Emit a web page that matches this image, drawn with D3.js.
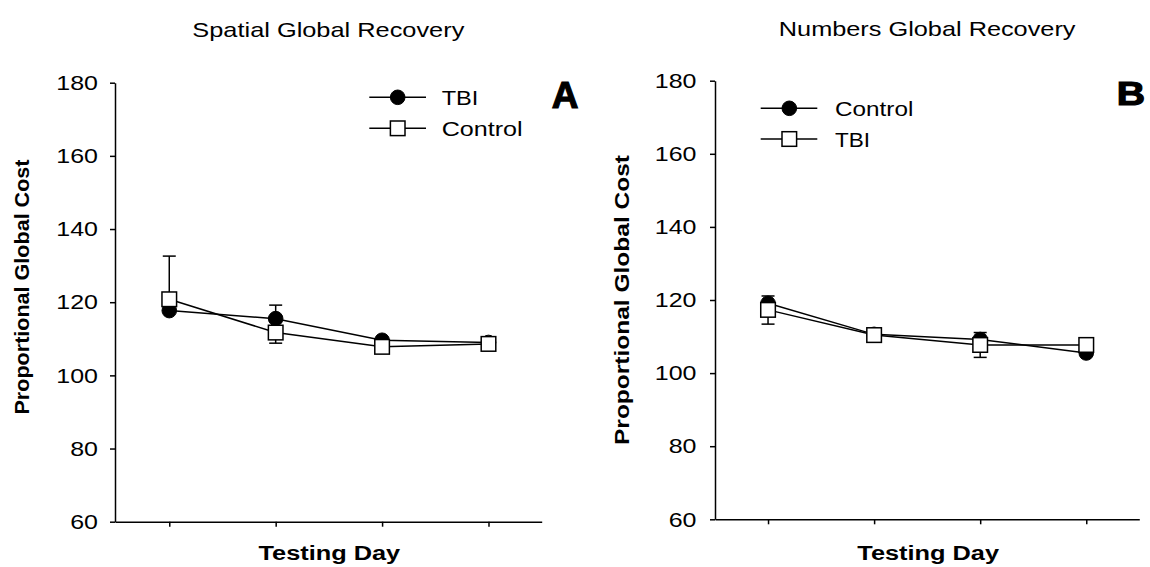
<!DOCTYPE html>
<html>
<head>
<meta charset="utf-8">
<script src="https://cdn.jsdelivr.net/npm/d3@7"></script>
<style>
  html, body { margin: 0; padding: 0; background: #fff; }
  svg { display: block; }
  text { font-family: "Liberation Sans", Arial, sans-serif; fill: #000; }
</style>
</head>
<body>
<svg id="chart" width="1150" height="567"></svg>
<script>
// Testing days (x categories)
const days = [1, 2, 3, 4];
const yTicks = [60, 80, 100, 120, 140, 160, 180];

// Panel A: spatial task
const spatialTBI = [117.7, 115.5, 109.6, 109.0];
const spatialTBIErrUp = [0, 3.7, 0.8, 0.6];
const spatialTBIErrDown = [0, 0, 0, 0];
const spatialControl = [120.8, 111.7, 107.8, 108.6];
const spatialControlErrUp = [11.8, 0, 0, 0];
const spatialControlErrDown = [0, 2.9, 0.5, 0];

// Panel B: numbers task
const numbersControl = [119.1, 110.6, 109.2, 105.5];
const numbersControlErrUp = [2.0, 0.5, 1.9, 0];
const numbersControlErrDown = [0, 0, 0, 0];
const numbersTBI = [117.3, 110.4, 107.7, 107.7];
const numbersTBIErrUp = [0, 0, 0, 0];
const numbersTBIErrDown = [3.9, 0, 3.4, 0];

const svg = d3.select("#chart");
const BLACK = "#000";
const LW = 1.5;

function drawPanel(cfg) {
  const g = svg.append("g");
  const x = d3.scaleLinear().domain(cfg.xDomain).range(cfg.xRange);
  const y = d3.scaleLinear().domain([60, 180]).range(cfg.yRange);

  // title
  g.append("text")
    .attr("x", (cfg.xRange[0] + cfg.xRange[1]) / 2)
    .attr("y", cfg.titleY)
    .attr("text-anchor", "middle")
    .attr("font-size", 21)
    .attr("textLength", cfg.titleLen)
    .attr("lengthAdjust", "spacingAndGlyphs")
    .text(cfg.title);

  // y axis
  const yAxis = g.append("g")
    .attr("transform", `translate(${cfg.xRange[0]},0)`)
    .call(d3.axisLeft(y).tickValues(yTicks).tickSize(5).tickSizeOuter(0).tickPadding(cfg.tickPad));
  yAxis.selectAll("path, line").attr("stroke", BLACK).attr("stroke-width", LW);
  yAxis.selectAll("text")
    .attr("font-size", 21)
    .attr("font-family", "Liberation Sans, Arial, sans-serif")
    .attr("fill", BLACK)
    .attr("textLength", d => String(d).length * 13.9)
    .attr("lengthAdjust", "spacingAndGlyphs");

  // x axis
  const xAxis = g.append("g")
    .attr("transform", `translate(0,${cfg.yRange[0]})`)
    .call(d3.axisBottom(x).tickValues(days).tickFormat("").tickSize(5).tickSizeOuter(0));
  xAxis.selectAll("path, line").attr("stroke", BLACK).attr("stroke-width", LW);

  // axis titles
  g.append("text")
    .attr("x", (cfg.xRange[0] + cfg.xRange[1]) / 2 + 1)
    .attr("y", 560)
    .attr("text-anchor", "middle")
    .attr("font-size", 20)
    .attr("font-weight", "bold")
    .attr("textLength", 141.7)
    .attr("lengthAdjust", "spacingAndGlyphs")
    .text("Testing Day");

  g.append("text")
    .attr("transform", `translate(${cfg.yLabelX},${cfg.yLabelY}) rotate(-90)`)
    .attr("text-anchor", "middle")
    .attr("font-size", 20)
    .attr("font-weight", "bold")
    .attr("textLength", cfg.yLabelLen)
    .attr("lengthAdjust", "spacingAndGlyphs")
    .text("Proportional Global Cost");

  // panel letter
  g.append("text")
    .attr("x", cfg.letterX)
    .attr("y", cfg.letterY)
    .attr("font-size", cfg.letterSize)
    .attr("font-weight", "bold")
    .attr("stroke", BLACK)
    .attr("stroke-width", 1.2)
    .attr("textLength", cfg.letterLen)
    .attr("lengthAdjust", "spacingAndGlyphs")
    .text(cfg.letter);

  const line = d3.line().x((d, i) => x(days[i])).y(d => y(d));
  const capHalf = 6.5;

  // connecting lines
  cfg.series.forEach(s => {
    g.append("path").datum(s.values)
      .attr("d", line).attr("fill", "none")
      .attr("stroke", BLACK).attr("stroke-width", LW);
  });

  // error bars
  cfg.series.forEach(s => {
    s.values.forEach((v, i) => {
      const cx = x(days[i]);
      [[s.errUp[i], 1], [s.errDown[i], -1]].forEach(([e, dir]) => {
        if (!e) return;
        const yEnd = y(v + dir * e);
        g.append("line").attr("x1", cx).attr("x2", cx)
          .attr("y1", y(v)).attr("y2", yEnd)
          .attr("stroke", BLACK).attr("stroke-width", LW);
        g.append("line").attr("x1", cx - capHalf).attr("x2", cx + capHalf)
          .attr("y1", yEnd).attr("y2", yEnd)
          .attr("stroke", BLACK).attr("stroke-width", LW);
      });
    });
  });

  // markers (circles first, squares on top)
  const drawMarker = (sel, shape, cx, cy) => {
    if (shape === "circle") {
      sel.append("circle").attr("cx", cx).attr("cy", cy).attr("r", 7.3)
        .attr("fill", BLACK).attr("stroke", BLACK).attr("stroke-width", 1);
    } else {
      sel.append("rect").attr("x", cx - 7.3).attr("y", cy - 7.3)
        .attr("width", 14.6).attr("height", 14.6)
        .attr("fill", "#fff").attr("stroke", BLACK).attr("stroke-width", LW);
    }
  };
  ["circle", "square"].forEach(shape => {
    cfg.series.filter(s => s.shape === shape).forEach(s => {
      s.values.forEach((v, i) => drawMarker(g, shape, x(days[i]), y(v)));
    });
  });

  // legend
  cfg.series.forEach((s, k) => {
    const ly = cfg.legendY[k];
    g.append("line").attr("x1", cfg.legendX[0]).attr("x2", cfg.legendX[2])
      .attr("y1", ly).attr("y2", ly).attr("stroke", BLACK).attr("stroke-width", LW);
    drawMarker(g, s.shape, cfg.legendX[1], ly);
    g.append("text")
      .attr("x", cfg.legendTextX).attr("y", ly).attr("dy", "0.36em")
      .attr("font-size", 21)
      .attr("textLength", s.legendLen)
      .attr("lengthAdjust", "spacingAndGlyphs")
      .text(s.name);
  });
}

drawPanel({
  title: "Spatial Global Recovery", titleY: 37, titleLen: 272,
  xDomain: [0.49, 4.5], xRange: [115, 541.7], yRange: [521.7, 82.7],
  tickPad: 12,
  yLabelX: 29, yLabelY: 287, yLabelLen: 255,
  letter: "A", letterX: 551.7, letterY: 108.3, letterSize: 37, letterLen: 26.7,
  legendX: [369.3, 397.7, 426], legendY: [97.3, 128.3], legendTextX: 441.7,
  series: [
    { name: "TBI", shape: "circle", values: spatialTBI, errUp: spatialTBIErrUp, errDown: spatialTBIErrDown, legendLen: 36.7 },
    { name: "Control", shape: "square", values: spatialControl, errUp: spatialControlErrUp, errDown: spatialControlErrDown, legendLen: 81 }
  ]
});

drawPanel({
  title: "Numbers Global Recovery", titleY: 36, titleLen: 296.7,
  xDomain: [0.5, 4.5], xRange: [715, 1139.3], yRange: [519.3, 80.7],
  tickPad: 13.5,
  yLabelX: 629, yLabelY: 300, yLabelLen: 290,
  letter: "B", letterX: 1116.7, letterY: 105, letterSize: 32.5, letterLen: 28.3,
  legendX: [760.7, 789.3, 817.3], legendY: [108.3, 139], legendTextX: 835,
  series: [
    { name: "Control", shape: "circle", values: numbersControl, errUp: numbersControlErrUp, errDown: numbersControlErrDown, legendLen: 78.3 },
    { name: "TBI", shape: "square", values: numbersTBI, errUp: numbersTBIErrUp, errDown: numbersTBIErrDown, legendLen: 35 }
  ]
});
</script>
</body>
</html>
